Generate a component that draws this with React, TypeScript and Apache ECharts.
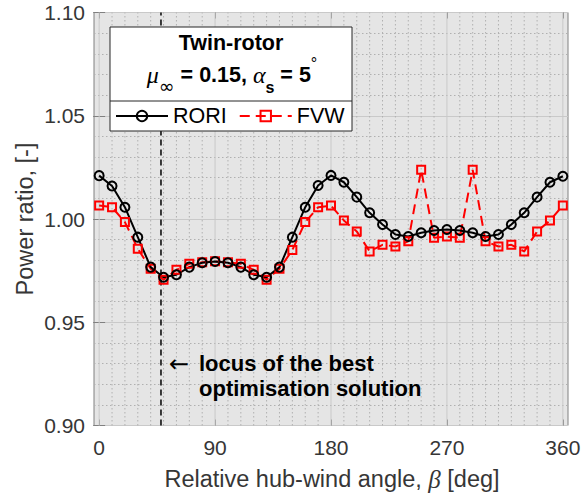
import React, { useEffect, useRef } from "react";
import * as echarts from "echarts";

const angles = [0, 10, 20, 30, 40, 50, 60, 70, 80, 90, 100, 110, 120, 130, 140, 150, 160, 170, 180,
  190, 200, 210, 220, 230, 240, 250, 260, 270, 280, 290, 300, 310, 320, 330, 340, 350, 360];

const rori = [1.021, 1.016, 1.0057, 0.9912, 0.9767, 0.9718, 0.973, 0.9767, 0.9788, 0.9794, 0.9788,
  0.9767, 0.973, 0.9718, 0.9767, 0.9912, 1.0057, 1.0162, 1.0211,
  1.0178, 1.0106, 1.003, 0.9973, 0.9925, 0.9915, 0.9933, 0.9944, 0.9949, 0.9944, 0.9933, 0.9915,
  0.9925, 0.9973, 1.003, 1.0106, 1.0178, 1.0207];

const fvw = [1.0065, 1.0057, 0.9985, 0.9856, 0.9759, 0.9706, 0.9754, 0.9783, 0.979, 0.9795, 0.979,
  0.9783, 0.9754, 0.9706, 0.9759, 0.985, 0.9985, 1.0057, 1.0065,
  0.9993, 0.994, 0.9843, 0.9875, 0.9867, 0.9892, 1.0238, 0.9909, 0.9915, 0.9909, 1.0238, 0.9892,
  0.9867, 0.9875, 0.9843, 0.994, 0.9993, 1.0065];

const xTicks = [0, 90, 180, 270, 360];
const xGridLines = [0, 10, 20, 30, 40, 50, 60, 70, 80, 90, 100, 110, 120, 130, 140, 150, 160, 170, 180,
  190, 200, 210, 220, 230, 240, 250, 260, 270, 280, 290, 300, 310, 320, 330, 340, 350, 360];
const locusAngle = 48;

const FONT = "'Liberation Sans', Arial, Helvetica, sans-serif";
const SERIF = "'Liberation Serif', 'DejaVu Serif', serif";

export default function App() {
  const ref = useRef<HTMLDivElement>(null);
  useEffect(() => {
    if (!ref.current) return;
    const chart = echarts.init(ref.current, undefined, { renderer: "svg" });
    const axisGray = "#808080";
    const labelColor = "#363636";
    const option: any = {
      animation: false,
      backgroundColor: "#ffffff",
      textStyle: { fontFamily: FONT },
      grid: {
        left: 94, top: 12.5, width: 474, height: 413,
        show: true, backgroundColor: "#e5e5e5", borderColor: axisGray, borderWidth: 1,
      },
      xAxis: [
        {
          type: "value", min: -4, max: 364, position: "bottom",
          axisLine: { show: false },
          axisTick: { show: true, inside: true, length: 6, customValues: xTicks, lineStyle: { color: axisGray } },
          axisLabel: { customValues: xTicks, fontSize: 21, color: labelColor, margin: 11, fontFamily: FONT },
          splitLine: { show: false },
        },
        {
          type: "value", min: -4, max: 364, position: "top",
          axisLine: { show: false },
          axisTick: { show: true, inside: true, length: 6, customValues: xTicks, lineStyle: { color: axisGray } },
          axisLabel: { show: false },
          splitLine: { show: false },
        },
      ],
      yAxis: [
        {
          type: "value", min: 0.9, max: 1.1, interval: 0.05, position: "left",
          axisLine: { show: false },
          axisTick: { show: true, inside: true, length: 6, lineStyle: { color: axisGray } },
          axisLabel: { fontSize: 21, color: labelColor, margin: 9, fontFamily: FONT, formatter: (v: number) => v.toFixed(2) },
          splitLine: { show: true, lineStyle: { color: "#c9c9c9", width: 1 } },
          minorTick: { show: false, splitNumber: 5 },
          minorSplitLine: { show: true, lineStyle: { color: "#b0b0b0", width: 1, type: [1.5, 2.5] } },
        },
        {
          type: "value", min: 0.9, max: 1.1, interval: 0.05, position: "right",
          axisLine: { show: false },
          axisTick: { show: true, inside: true, length: 6, lineStyle: { color: axisGray } },
          axisLabel: { show: false },
          splitLine: { show: false },
        },
      ],
      legend: {
        data: ["RORI", "FVW"],
        left: 110, top: 100, itemWidth: 52, itemHeight: 13, itemGap: 12,
        textStyle: { fontSize: 21.5, color: "#000", fontFamily: FONT },
        z: 20,
      },
      graphic: [
        {
          type: "rect", z: 10, shape: { x: 110, y: 27, width: 242, height: 104 },
          style: { fill: "#ffffff", stroke: "#262626", lineWidth: 1 },
        },
        {
          type: "line", z: 11, shape: { x1: 110, y1: 101, x2: 352, y2: 101 },
          style: { stroke: "#262626", lineWidth: 1 },
        },
        {
          type: "text", z: 11, x: 231, y: 43,
          style: { text: "Twin-rotor", font: `bold 21.5px ${FONT}`, fill: "#000", align: "center", verticalAlign: "middle" },
        },
        {
          type: "text", z: 11, x: 232, y: 75,
          style: {
            text: "{g|μ}{sub|∞}{m| = 0.15, }{g|α}{subb|s}{m| = 5}{sup|°}",
            align: "center", verticalAlign: "middle", fill: "#000",
            rich: {
              g: { fontFamily: SERIF, fontStyle: "italic", fontSize: 24, lineHeight: 40, verticalAlign: "middle", fill: "#000" },
              m: { fontFamily: FONT, fontWeight: "bold", fontSize: 21.5, lineHeight: 40, verticalAlign: "middle", fill: "#000" },
              sub: { fontFamily: "'DejaVu Sans', sans-serif", fontSize: 19, lineHeight: 16, verticalAlign: "bottom", fill: "#000" },
              subb: { fontFamily: FONT, fontWeight: "bold", fontSize: 16, lineHeight: 14, verticalAlign: "bottom", fill: "#000" },
              sup: { fontFamily: FONT, fontSize: 16, lineHeight: 22, verticalAlign: "top", fill: "#000" },
            },
          },
        },
        {
          type: "text", z: 11, x: 169, y: 364,
          style: { text: "←", font: "24px 'DejaVu Sans', sans-serif", fill: "#000", align: "left", verticalAlign: "middle" },
        },
        {
          type: "text", z: 11, x: 199, y: 363,
          style: { text: "locus of the best", font: `bold 22px ${FONT}`, fill: "#000", align: "left", verticalAlign: "middle" },
        },
        {
          type: "text", z: 11, x: 199, y: 388,
          style: { text: "optimisation solution", font: `bold 22px ${FONT}`, fill: "#000", align: "left", verticalAlign: "middle" },
        },
        {
          type: "text", z: 11, x: 25, y: 219, rotation: Math.PI / 2,
          style: { text: "Power ratio, [-]", font: `23.5px ${FONT}`, fill: labelColor, align: "center", verticalAlign: "middle" },
        },
        {
          type: "text", z: 11, x: 332, y: 479,
          style: {
            text: "{a|Relative hub-wind angle, }{b|β}{a| [deg]}",
            align: "center", verticalAlign: "middle",
            rich: {
              a: { fontFamily: FONT, fontSize: 23.5, fill: labelColor },
              b: { fontFamily: SERIF, fontStyle: "italic", fontSize: 25, fill: labelColor },
            },
          },
        },
      ],
      series: [
        {
          type: "custom", name: "grid-x", silent: true, z: 1,
          data: xGridLines.map((v) => [v]),
          encode: { x: 0 },
          renderItem: (params: any, api: any) => {
            const v = api.value(0);
            const p1 = api.coord([v, 0.9]);
            const p2 = api.coord([v, 1.1]);
            const major = v % 90 === 0;
            return {
              type: "line",
              shape: { x1: p1[0], y1: p1[1], x2: p2[0], y2: p2[1] },
              style: major
                ? { stroke: "#c9c9c9", lineWidth: 1 }
                : { stroke: "#b0b0b0", lineWidth: 1, lineDash: [1.5, 2.5] },
            };
          },
        },
        {
          type: "line", name: "locus", silent: true, z: 2,
          data: [[locusAngle, 0.9], [locusAngle, 1.1]],
          symbol: "none",
          lineStyle: { color: "#000", width: 1.5, type: [6, 4] },
        },
        {
          type: "line", name: "FVW", z: 3,
          data: angles.map((a, i) => [a, fvw[i]]),
          symbol: "rect", symbolSize: 8,
          lineStyle: { color: "#ff0000", width: 2, type: [10, 6] },
          itemStyle: { color: "rgba(0,0,0,0)", borderColor: "#ff0000", borderWidth: 2 },
        },
        {
          type: "line", name: "RORI", z: 3,
          data: angles.map((a, i) => [a, rori[i]]),
          symbol: "circle", symbolSize: 9,
          lineStyle: { color: "#000", width: 2 },
          itemStyle: { color: "rgba(0,0,0,0)", borderColor: "#000", borderWidth: 2 },
        },
      ],
    };
    chart.setOption(option);
    return () => chart.dispose();
  }, []);
  return <div ref={ref} style={{ position: "absolute", left: 0, top: 0, width: 587, height: 494 }} />;
}
